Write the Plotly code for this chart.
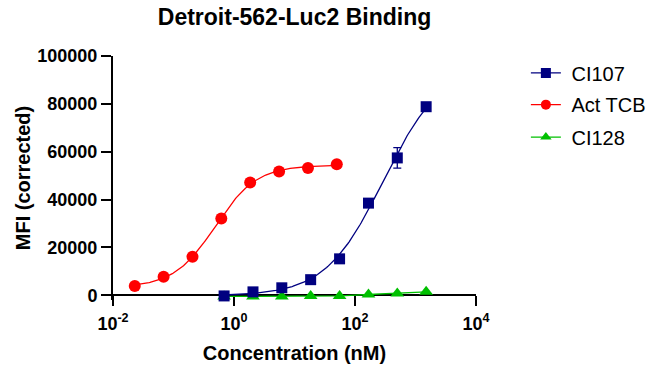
import numpy as np
import plotly.graph_objects as go

# ---- data ----
act_tcb_conc = [0.0229, 0.0686, 0.206, 0.617, 1.85, 5.56, 16.7, 50.0]
act_tcb_mfi = [3900, 7700, 16100, 32100, 47100, 51700, 53200, 54700]

ci107_conc = [0.686, 2.06, 6.17, 18.5, 55.6, 167.0, 500.0, 1500.0]
ci107_mfi = [-300, 1400, 3100, 6500, 15200, 38500, 57400, 78800]
ci107_err = [200, 300, 400, 600, 900, 1500, 4300, 1200]

ci128_conc = [0.686, 2.06, 6.17, 18.5, 55.6, 167.0, 500.0, 1500.0]
ci128_mfi = [-500, -500, -500, -300, -300, 300, 700, 1400]

x_tickvals = [0.01, 1, 100, 10000]
x_ticktext = ["10<sup>-2</sup>", "10<sup>0</sup>", "10<sup>2</sup>", "10<sup>4</sup>"]
y_tickvals = [0, 20000, 40000, 60000, 80000, 100000]
y_ticktext = ["0", "20000", "40000", "60000", "80000", "100000"]

NAVY = "#000080"
RED = "#FF0000"
GREEN = "#00C000"
FONT = "Arial, Liberation Sans, sans-serif"


def fit_4pl(conc, resp):
    """Four-parameter logistic fit: grid over logEC50/hill, linear LS for bottom/top."""
    lx = np.log10(np.asarray(conc, float))
    y = np.asarray(resp, float)
    best = None
    for hill in np.arange(0.3, 3.0, 0.01):
        for le in np.arange(lx.min() - 1.0, lx.max() + 1.5, 0.005):
            f = 1.0 / (1.0 + 10 ** ((le - lx) * hill))
            A = np.column_stack([1 - f, f])
            coef, *_ = np.linalg.lstsq(A, y, rcond=None)
            sse = np.sum((A @ coef - y) ** 2)
            if best is None or sse < best[0]:
                best = (sse, coef[0], coef[1], le, hill)
    _, bottom, top, le, hill = best
    xs = np.logspace(lx.min(), lx.max(), 200)
    ys = bottom + (top - bottom) / (1.0 + 10 ** ((le - np.log10(xs)) * hill))
    return xs, ys


act_x, act_y = fit_4pl(act_tcb_conc, act_tcb_mfi)
ci107_x, ci107_y = fit_4pl(ci107_conc, ci107_mfi)

fig = go.Figure()

# CI128 (drawn first, underneath)
fig.add_trace(go.Scatter(x=ci128_conc, y=ci128_mfi, mode="lines+markers",
                         line=dict(color=GREEN, width=1.3),
                         marker=dict(symbol="triangle-up", size=12, color=GREEN),
                         cliponaxis=False, showlegend=False))
# Act TCB
fig.add_trace(go.Scatter(x=act_x, y=act_y, mode="lines",
                         line=dict(color=RED, width=1.3), showlegend=False))
fig.add_trace(go.Scatter(x=act_tcb_conc, y=act_tcb_mfi, mode="markers",
                         marker=dict(symbol="circle", size=12, color=RED),
                         cliponaxis=False, showlegend=False))
# CI107
fig.add_trace(go.Scatter(x=ci107_x, y=ci107_y, mode="lines",
                         line=dict(color=NAVY, width=1.3), showlegend=False))
fig.add_trace(go.Scatter(x=ci107_conc, y=ci107_mfi, mode="markers",
                         marker=dict(symbol="square", size=11, color=NAVY),
                         error_y=dict(type="data", array=ci107_err, color=NAVY,
                                      thickness=1.3, width=4),
                         cliponaxis=False, showlegend=False))

# legend entries
legend_items = [("CI107", NAVY, "square", "legend"),
                ("Act TCB", RED, "circle", "legend2"),
                ("CI128", GREEN, "triangle-up", "legend3")]
for name, col, sym, lg in legend_items:
    fig.add_trace(go.Scatter(x=[None], y=[None], mode="lines+markers",
                             name="\u00a0" + name,
                             line=dict(color=col, width=1.3),
                             marker=dict(symbol=sym, size=10, color=col),
                             legend=lg))

W, H = 662, 367
Y_LO, Y_HI = -2000, 100000
L, R, T = 113.3, 475.7, 55.7
ZERO_PX = 295.7
px_per_unit = (ZERO_PX - T) / Y_HI
B = ZERO_PX + (0 - Y_LO) * px_per_unit
pw, ph = R - L, B - T
x_axis_pos = (0 - Y_LO) / (Y_HI - Y_LO)


def px_to_paper_x(px):
    return (px - L) / pw


def py_to_paper_y(py):
    return (B - py) / ph


leg_common = dict(font=dict(family=FONT, size=20, color="black"),
                  bgcolor="rgba(0,0,0,0)", xanchor="left", yanchor="middle")
legend_y = {"legend": 72.7, "legend2": 104.5, "legend3": 137}
layout_legends = {}
for k, v in legend_y.items():
    layout_legends[k] = dict(x=px_to_paper_x(525.5), y=py_to_paper_y(v), **leg_common)

fig.update_layout(
    width=W, height=H,
    margin=dict(l=L, r=W - R, t=T, b=H - B, pad=0, autoexpand=False),
    paper_bgcolor="white", plot_bgcolor="white",
    font=dict(family=FONT, color="black"),
    title=dict(text="Detroit-562-Luc2 Binding", x=0.5, xref="paper",
               y=1 - 17 / H, yref="container", yanchor="middle", xanchor="center",
               font=dict(family=FONT, size=23, weight="bold", color="black")),
    xaxis=dict(type="log", range=[-2, 4], tickvals=x_tickvals, ticktext=x_ticktext,
               anchor="free", position=x_axis_pos, layer="below traces",
               automargin=False,
               showline=True, linecolor="black", linewidth=2, mirror=False,
               ticks="outside", ticklen=10, tickwidth=2, tickcolor="black",
               ticklabelstandoff=2,
               showgrid=False, zeroline=False,
               tickfont=dict(family=FONT, size=18, weight="bold", color="black"),
               title=dict(text="Concentration (nM)", standoff=12,
                          font=dict(family=FONT, size=20, weight="bold", color="black"))),
    yaxis=dict(range=[Y_LO, Y_HI], tickvals=y_tickvals, ticktext=y_ticktext,
               layer="below traces", automargin=False,
               showline=True, linecolor="black", linewidth=2,
               ticks="outside", ticklen=10, tickwidth=2, tickcolor="black",
               showgrid=False, zeroline=False,
               tickfont=dict(family=FONT, size=18, weight="bold", color="black"),
               title=dict(text="MFI (corrected)", standoff=1,
                          font=dict(family=FONT, size=20, weight="bold", color="black"))),
    **layout_legends,
)

fig.write_html("out.html")
